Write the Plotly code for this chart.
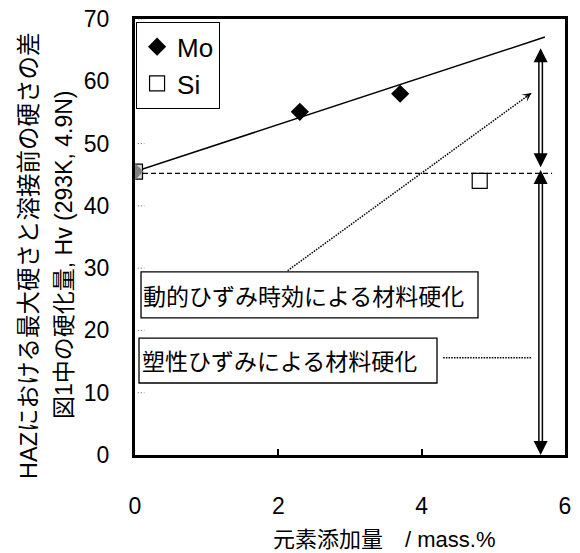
import plotly.graph_objects as go

# ---------------- data ----------------
mo_x = [0.0, 2.30, 3.70]
mo_y = [45.5, 55.1, 58.0]
si_x = [0.0, 4.81]
si_y = [45.5, 44.0]

trend_x = [0.0, 5.72]
trend_y = [45.5, 67.1]

base_level = 45.2
base_x = [0.0, 5.82]

# double arrows (x, top tip, bottom tip)
arrow_x = 5.66
upper_arrow = [65.3, 46.2]
lower_arrow = [45.75, 0.0]

# dotted arrows: (start x, start y, tip x, tip y)
dotted_arrows = [
    [2.13, 29.6, 5.53, 58.1],
    [4.30, 15.6, 5.54, 15.6],
]

# labelled boxes: (x0, x1, y0, y1, text x, text y, text)
boxes = [
    [0.084, 4.786, 22.0, 29.4, 0.09, 25.7, "動的ひずみ時効による材料硬化"],
    [0.056, 4.214, 11.56, 18.78, 0.07, 15.2, "塑性ひずみによる材料硬化"],
]

x_ticks = [0, 2, 4, 6]
y_ticks = [0, 10, 20, 30, 40, 50, 60, 70]
dot_ticks = [10, 20, 30, 40, 50, 70]

x_title = "元素添加量　/ mass.%"
y_title_1 = "HAZにおける最大硬さと溶接前の硬さの差"
y_title_2 = "図1中の硬化量, Hv (293K, 4.9N)"

FONT = "Liberation Sans, Arial, Noto Sans CJK JP, sans-serif"
W, H = 580, 553
ML, MR, MT, MB = 135, 15, 19, 98
plot_h = H - MT - MB
px_per_y = plot_h / 70.0

fig = go.Figure()

# trend line
fig.add_trace(go.Scatter(x=trend_x, y=trend_y, mode="lines",
                         line=dict(color="black", width=1.5),
                         showlegend=False, hoverinfo="skip"))

# Mo & Si series (origin point drawn separately)
fig.add_trace(go.Scatter(x=mo_x[1:], y=mo_y[1:], mode="markers", name="Mo",
                         marker=dict(symbol="diamond", size=14, color="black",
                                     line=dict(width=0))))
fig.add_trace(go.Scatter(x=si_x[1:], y=si_y[1:], mode="markers", name="Si",
                         marker=dict(symbol="square", size=15, color="white",
                                     line=dict(color="black", width=1.2))))
# overlapped origin point
fig.add_trace(go.Scatter(x=si_x[:1], y=si_y[:1], mode="markers", showlegend=False,
                         marker=dict(symbol="square", size=15, color="#d8d8d8",
                                     line=dict(color="black", width=1.2))))
fig.add_trace(go.Scatter(x=mo_x[:1], y=mo_y[:1], mode="markers", showlegend=False,
                         marker=dict(symbol="diamond", size=13, color="#808080",
                                     line=dict(width=0))))

shapes = []
annotations = []

# dashed base level
shapes.append(dict(type="line", xref="x", yref="y", x0=base_x[0], x1=base_x[1],
                   y0=base_level, y1=base_level,
                   line=dict(color="black", width=1.3, dash="5px,3px"), layer="below"))

# dotted tick marks on the y axis
for v in dot_ticks:
    shapes.append(dict(type="line", xref="x", yref="y", x0=0.04, x1=0.13, y0=v, y1=v,
                       line=dict(color="#555555", width=1, dash="1px,2px")))

# boxes with text
for x0, x1, y0, y1, tx, ty, txt in boxes:
    shapes.append(dict(type="rect", xref="x", yref="y", x0=x0, x1=x1, y0=y0, y1=y1,
                       line=dict(color="black", width=1.3), fillcolor="white"))
    annotations.append(dict(x=tx, y=ty, xref="x", yref="y", text=txt, showarrow=False,
                            xanchor="left", yanchor="middle",
                            font=dict(family="Noto Sans CJK JP", size=23, color="black")))

# dotted arrows
for sx, sy, ex, ey in dotted_arrows:
    shapes.append(dict(type="line", xref="x", yref="y", x0=sx, y0=sy, x1=ex, y1=ey,
                       line=dict(color="black", width=1.5, dash="1.5px,1.2px")))
    f = 0.03
    annotations.append(dict(x=ex, y=ey, xref="x", yref="y",
                            ax=ex - f * (ex - sx), ay=ey - f * (ey - sy),
                            axref="x", ayref="y", text="", showarrow=True,
                            arrowhead=3, arrowsize=1.5, arrowwidth=1, arrowcolor="black"))

# double-line arrows with filled heads
head_px = 14
head_dy = head_px / px_per_y
for top, bot in [upper_arrow, lower_arrow]:
    y_a, y_b = top - head_dy, bot + head_dy
    shapes.append(dict(type="line", xref="x", yref="y", x0=arrow_x, x1=arrow_x,
                       y0=y_a + 0.3, y1=y_b - 0.3, line=dict(color="black", width=5)))
    shapes.append(dict(type="line", xref="x", yref="y", x0=arrow_x, x1=arrow_x,
                       y0=y_a + 0.6, y1=y_b - 0.6, line=dict(color="white", width=2)))
    annotations.append(dict(x=arrow_x, y=top, xref="x", yref="y", ax=0, ay=head_px,
                            text="", showarrow=True, arrowhead=2, arrowsize=2.8,
                            arrowwidth=1, arrowcolor="black"))
    annotations.append(dict(x=arrow_x, y=bot, xref="x", yref="y", ax=0, ay=-head_px,
                            text="", showarrow=True, arrowhead=2, arrowsize=2.8,
                            arrowwidth=1, arrowcolor="black"))

# axis titles
plot_w = W - ML - MR
annotations.append(dict(x=(384 - ML) / plot_w, y=-(539 - (H - MB)) / plot_h,
                        xref="paper", yref="paper", text=x_title, showarrow=False,
                        xanchor="center", yanchor="middle",
                        font=dict(family=FONT, size=22, color="black")))
annotations.append(dict(x=(29 - ML) / plot_w, y=((H - MB) - 256) / plot_h,
                        xref="paper", yref="paper", text=y_title_1, showarrow=False,
                        textangle=-90, xanchor="center", yanchor="middle",
                        font=dict(family=FONT, size=23.5, color="black")))
annotations.append(dict(x=(64 - ML) / plot_w, y=((H - MB) - 255) / plot_h,
                        xref="paper", yref="paper", text=y_title_2, showarrow=False,
                        textangle=-90, xanchor="center", yanchor="middle",
                        font=dict(family=FONT, size=23, color="black")))

fig.update_layout(
    width=W, height=H,
    margin=dict(l=ML, r=MR, t=MT, b=MB, pad=0, autoexpand=False),
    paper_bgcolor="white", plot_bgcolor="white",
    font=dict(family=FONT, size=23, color="black"),
    shapes=shapes, annotations=annotations,
    legend=dict(x=0.002, y=0.993, xanchor="left", yanchor="top",
                bgcolor="white", bordercolor="black", borderwidth=1.2,
                font=dict(family=FONT, size=26, color="black"),
                itemwidth=30, tracegroupgap=0),
    xaxis=dict(range=[0, 6], tickvals=x_ticks, ticktext=[str(v) for v in x_ticks],
               showgrid=False, zeroline=False, showline=True, linecolor="black",
               linewidth=3, mirror=True, ticks="inside", ticklen=6, tickwidth=1.5,
               tickcolor="black", ticklabelstandoff=28, automargin=False,
               tickfont=dict(family=FONT, size=23, color="black")),
    yaxis=dict(range=[0, 70], tickvals=y_ticks, ticktext=[str(v) for v in y_ticks],
               showgrid=False, zeroline=False, showline=True, linecolor="black",
               linewidth=3, mirror=True, ticks="", ticklabelstandoff=18, automargin=False,
               tickfont=dict(family=FONT, size=23, color="black")),
)

fig.write_html("out.html", config={"displayModeBar": False},
               post_script="document.body.style.margin='0';document.body.style.overflow='hidden';")
